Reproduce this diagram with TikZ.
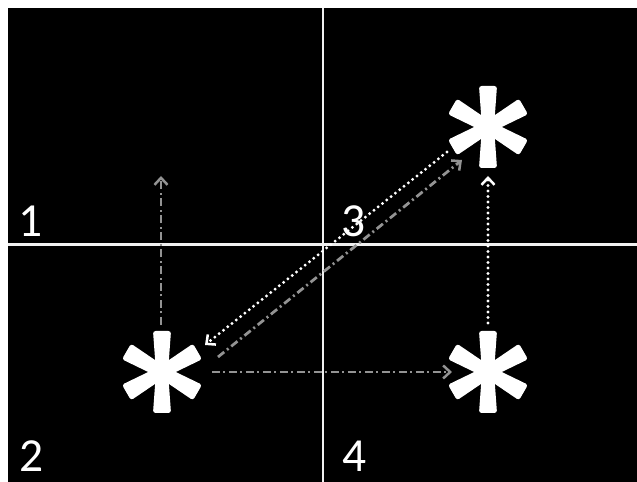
\documentclass[tikz,border=0pt]{standalone}
\usepackage{fontspec}
\setmainfont{Carlito}
\usetikzlibrary{arrows.meta}

\tikzset{
  spoke/.style={fill=white, rounded corners=1.5pt},
  asterisk/.pic={
    \fill[white] (0,0) circle (7);
    \foreach \a in {90,30,...,-210}
      \fill[spoke, rotate=\a-90] (-6,0) -- (-9,41) -- (9,41) -- (6,0) -- cycle;
  },
  greyarrow/.style={draw=gray!85, line width=0.055cm,
    dash pattern=on 0.16cm off 0.07cm on 0.04cm off 0.07cm,
    -{Straight Barb[length=0.14cm,width=0.26cm,line width=0.05cm]}},
  dotarrow/.style={draw=white, line width=0.065cm, line cap=round,
    dash pattern=on 0pt off 0.11cm,
    -{Straight Barb[length=0.14cm,width=0.26cm,line width=0.05cm]}},
  quadrant/.style={text=white, font=\fontsize{27}{27}\selectfont, inner sep=0pt}
}

\begin{document}
\begin{tikzpicture}[x=0.02cm, y=-0.02cm]
    % Rahmen
    \useasboundingbox (0,0) rectangle (637,482);
    \fill[white] (0,0) rectangle (637,482);
    \fill[black] (8,8) rectangle (637,482);

    % Achsen
    \draw[white!88!gray, line width=0.06cm] (323,8) -- (323,482);
    \draw[white!88!gray, line width=0.06cm] (8,245) -- (637,245);

    % Quadranten
    \node[quadrant] (q1) at (31,221) {1};
    \node[quadrant] (q2) at (32,456) {2};
    \node[quadrant] (q3) at (354,221) {3};
    \node[quadrant] (q4) at (355,456) {4};

    % Sterne
    \pic at (162,372) {asterisk};
    \pic at (488,127) {asterisk};
    \pic at (488,372) {asterisk};

    % Endpunkte
    \coordinate (l1) at (161,325); \coordinate (l2) at (161,176);
    \coordinate (d1) at (447,152); \coordinate (d2) at (205,345);
    \coordinate (g1) at (218,357); \coordinate (g2) at (462,160);
    \coordinate (h1) at (212,372); \coordinate (h2) at (452,372);
    \coordinate (r1) at (488,323); \coordinate (r2) at (488,176);

    % Pfeile
    \draw[greyarrow] (l1) -- (l2);
    \draw[dotarrow] (d1) -- (d2);
    \draw[greyarrow] (g1) -- (g2);
    \draw[greyarrow] (h1) -- (h2);
    \draw[dotarrow] (r1) -- (r2);
\end{tikzpicture}
\end{document}
